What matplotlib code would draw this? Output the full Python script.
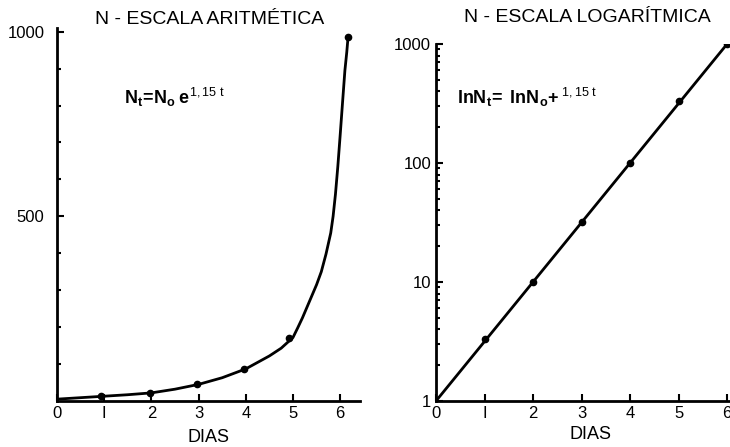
import matplotlib
matplotlib.use("Agg")
import matplotlib.pyplot as plt

plt.rcParams['font.family'] = ['Liberation Sans', 'DejaVu Sans']
plt.rcParams['mathtext.fontset'] = 'custom'
plt.rcParams['mathtext.rm'] = 'Liberation Sans'
plt.rcParams['mathtext.bf'] = 'Liberation Sans:bold'
plt.rcParams['mathtext.it'] = 'Liberation Sans'

# Left panel (arithmetic scale): hand-drawn curve read along its length, and the dots
curve_t = [0, 0.5, 1, 1.5, 2, 2.5, 3, 3.5, 4, 4.5, 4.75, 5, 5.1, 5.2, 5.3, 5.4, 5.5,
           5.6, 5.7, 5.8, 5.85, 5.9, 5.95, 6.0, 6.05, 6.1, 6.14, 6.17]
curve_n = [5, 9, 13, 17, 22, 32, 45, 63, 87, 122, 143, 172, 198, 225, 255, 285, 315,
           350, 398, 455, 500, 560, 635, 720, 808, 895, 945, 990]
pts_t = [0.93, 1.97, 2.97, 3.96, 4.92, 6.17]
pts_n = [14, 22, 46, 86, 170, 985]

# Right panel (log scale)
log_line_t = [0, 6]
log_line_n = [1, 1000]
log_pts_t = [1, 2, 3, 4, 5, 6]
log_pts_n = [3.3, 10, 32, 100, 330, 1000]

x_ticks = [0, 1, 2, 3, 4, 5, 6]
x_labels = ['0', 'I', '2', '3', '4', '5', '6']

fig = plt.figure(figsize=(7.3, 4.47), dpi=100)
W, H = 730, 447

def pos(l, r, t, b):
    return [l / W, 1 - b / H, (r - l) / W, (b - t) / H]

ax1 = fig.add_axes(pos(57, 360, 28, 401))
ax2 = fig.add_axes(pos(436, 730, 44, 401))

lw = 2.0
for ax in (ax1, ax2):
    for s in ('top', 'right'):
        ax.spines[s].set_visible(False)
    for s in ('left', 'bottom'):
        ax.spines[s].set_linewidth(lw)
    ax.tick_params(which='both', direction='in', width=1.5, labelsize=12)
    ax.tick_params(which='major', length=5)
    ax.tick_params(which='minor', length=3)
    ax.set_xticks(x_ticks)
    ax.set_xticklabels(x_labels)

# Left
ax1.plot(curve_t, curve_n, color='black', lw=lw, solid_capstyle='round',
         solid_joinstyle='round')
ax1.plot(pts_t, pts_n, 'o', color='black', ms=4.5)
ax1.set_xlim(0, 6.42)
ax1.set_ylim(0, 1010)
ax1.set_yticks([500, 1000])
ax1.set_yticklabels(['500', '1000'])
ax1.set_yticks([100, 200, 300, 400, 600, 700, 800, 900], minor=True)
ax1.tick_params(axis='y', which='major', pad=9)
ax1.set_xlabel('DIAS', fontsize=13, labelpad=6)
ax1.set_title('N - ESCALA ARITMÉTICA', fontsize=14, pad=2, x=0.505)
ax1.text(0.22, 0.815, r'$\mathbf{N_t\!=\!N_o\;e}^{1,15\ t}$', transform=ax1.transAxes,
         fontsize=13, ha='left', va='center')

# Right
ax2.set_yscale('log')
ax2.plot(log_line_t, log_line_n, color='black', lw=lw)
ax2.plot(log_pts_t, log_pts_n, 'o', color='black', ms=4.5)
ax2.set_xlim(0, 6.06)
ax2.set_ylim(1, 1000)
ax2.set_yticks([1, 10, 100, 1000])
ax2.set_yticklabels(['1', '10', '100', '1000'])
ax2.yaxis.set_minor_formatter(matplotlib.ticker.NullFormatter())
ax2.set_xlabel('DIAS', fontsize=13, labelpad=4, x=0.524)
ax2.set_title('N - ESCALA LOGARÍTMICA', fontsize=14, pad=16, x=0.514)
ax2.text(0.07, 0.85, r'$\mathbf{lnN_t\!=\ lnN_o\!+}^{1,15\ t}$', transform=ax2.transAxes,
         fontsize=13, ha='left', va='center')

fig.savefig('out.png', dpi=100)
